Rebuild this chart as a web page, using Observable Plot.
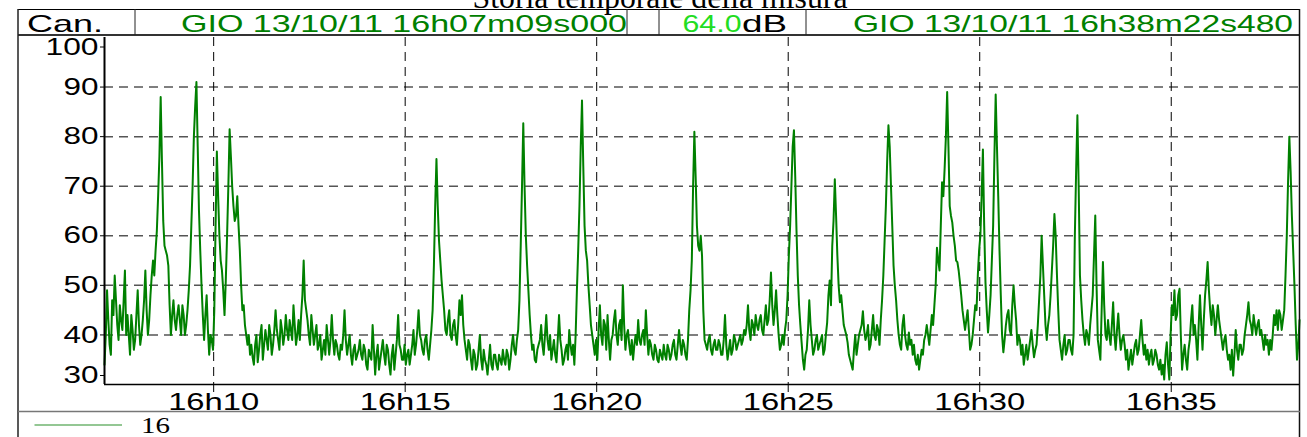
<!DOCTYPE html>
<html><head><meta charset="utf-8">
<script src="https://cdn.jsdelivr.net/npm/d3@7"></script>
<script src="https://cdn.jsdelivr.net/npm/@observablehq/plot@0.6"></script>
<style>
html,body{margin:0;padding:0;background:#fff;}
#wrap{position:relative;width:1307px;height:437px;overflow:hidden;background:#fff;}
#wrap svg{position:absolute;left:0;top:0;}
</style></head><body><div id="wrap"></div>
<script>
// ---- data ----
const titleText = "Storia temporale della misura";
const headerChannel = "Can.";
const headerStart = "GIO 13/10/11  16h07m09s000";
const headerLevel = "64.0";
const headerUnit = "dB";
const headerEnd = "GIO 13/10/11  16h38m22s480";
const legendLabel = "16";
const startTime = "2011-10-13T16:07:09.000Z";
const endTime = "2011-10-13T16:38:22.480Z";
const stepSeconds = 4;
const yTicks = [30, 40, 50, 60, 70, 80, 90, 100];
const xTickTimes = ["16:10", "16:15", "16:20", "16:25", "16:30", "16:35"];
// sound level (dB), one value every 4 s from 16h07m09s
const levels = [
34,49,38,47,52,42,46,41,53,44, 36,41,39,49,38,43,53,40,48,55,
57,68,88,63,57,54,40,47,41,46, 40,44,42,49,62,80,91,65,50,39,
48,36,39,45,77,60,53,44,60,81.5, 70,63,68,57,45,42,38,36,35.5,38,
34.5,40,35,41,37,40,38,45,39,43, 38,44,39,41,46,38,43,44,55,45,
40,44,38,42,38,35,39,42,36,44, 36,38,35,37,45,36,40,34,38,36,
39,35,37,33,36,42,32,38,35,39, 34,37,32,38,36,44,37,35,34,37,
36,41,38,45,39,36,40,35,41,54, 75.5,59,51,45,40,45,39,43,38,47,
48,39,35,38,33,36,34,40,33,35, 32,38,33,36,33,35,37,34,36,35,
40,36,41,58,82.7,60,49,40,38,34.5, 38,42,36,44,37,35,39,34.5,44,37,
35,38,41,36,34,49,66,87.3,62,55, 46,40,36,35,46,38,42,44,35,40,
45,38,43,50,37,41,36,35,40,43, 38,41,45,36,38,35,37,34.5,36,38,
35,37,36,39,35,41,36,38,35,45, 55,81,62,57,56,39,37,40,36,39,
37,38,36,44,35,39,37,39,38,40, 39,40,46,39,42,44,41,44,40,46,
43,52.6,42,49,40,38,38,43,56,70, 81.3,61,46,38.5,33,37,47,39,37,40,
38,40,37,42.5,51,58,71.4,56,46.6,45, 41,38.5,35,33,40,38,41,44.8,39,42,
38,44,39,41,43,52,66,82.3,70,54, 47,40,37,44,38,40.5,39,38,34,33,
37,39,42,38,44,46,57.6,53,70.8,73.5, 89,66,62.7,58,54.7,50.6,45,41,45,37,
40,46,52,60,77.4,50.6,40.5,48,62,88.5, 68,48,36.5,42,45,40,50,43,40,36,
34,38,37,41,35.5,38,47,60,48,39, 44,53,64.4,52,39,35,40,37,39,36,
60,84.3,52,43,38,40,42,48,64.1,39, 35,54.7,40,43,38,46.6,37,44.3,37,40,
35,33,37,36,39,37,43,36,35,34, 37,35,36,33,32,31,38.5,31,46,49,
44,49.3,33,38,33,39,46,42,35,48, 37,48,54.7,45,46,40,46,41,37,40,
35,33,31.8,41,35,38,37,42,46.6,42, 44,40,43,41,37,38,36,37,44,45,
45,41,45,60,80,64,50,35,43
];
// the readings 2 s after each of the above (the other edge of the noise band)
const levelsBetween = [
40,43,36,44,47,39,43,47,40,40, 44,37,44,42,40,47,45,43,52,52,
61,76,75,58,56,46,44,43,44,43, 46,40,45,54,70,86,78,57,44,44,
41,40,37,62,68,55,49,51,70,76, 66,64,62,50,46,40,40,38,34,40,
37,42,38,39,42,36,41,41,37,41, 40,41,43,39,42,40,39,48,47,43,
38,41,40,37,40,37,36,39,39,39, 39,36,38,40,39,38,36,37,35,37,
36,38,34,37,35,37,36,33,37,36, 38,34,36,33,39,38,35,38,36,34,
38,36,41,40,37,39,37,38,45,66, 66,55,48,41,43,40,42,40,42,44,
42,37,39,35,37,33,37,35,37,34, 35,34,36,34,36,34,35,37,33,38,
37,39,47,70,70,54,44,37,35,37, 39,38,40,39,40,37,36,39,39,34,
37,35,38,38,40,57,78,74,57,50, 42,38,39,41,40,43,37,39,39,43,
40,42,39,42,40,38,39,38,38,39, 40,38,40,39,36,38,35,37,35,36,
38,35,38,36,38,38,39,36,39,49, 70,72,58,60,45,38,39,37,38,37,
39,36,39,38,37,36,40,37,39,38, 41,42,41,43,40,42,43,41,43,42,
47,46,45,44,37,40,41,48,62,78, 72,52,42,35,36,41,42,36,39,37,
39,36,40,48,46,63,64,50,48,42, 40,36,34,37,36,40,42,41,40,37,
41,40,42,38,47,59,75,78,62,50, 43,38,42,40,37,38,36,35,36,35,
36,40,40,41,42,50,55,62,68,80, 78,64,60,55,53,48,43,43,41,38,
43,45,57,68,62,45,44,55,76,78, 57,40,39,44,41,46,46,38,39,38,
36,35,39,38,37,42,52,54,42,42, 48,58,60,45,37,38,36,39,37,40,
73,70,47,40,41,38,45,56,50,37, 45,46,39,40,42,40,41,40,39,38,
37,35,34,38,36,40,39,38,37,36, 34,37,34,35,34,36,34,40,44,43,
48,40,36,35,37,43,40,39,42,42, 43,51,49,42,44,43,43,39,39,37,
36,37,36,37,38,36,40,44,43,40, 42,42,40,39,40,39,39,40,42,41,
44,43,52,71,73,57,42,38
];

// ---- chart ----
const t0 = new Date(startTime);
const t1 = new Date(endTime);
const series = [];
levels.forEach((v, i) => {
  series.push({time: new Date(t0.getTime() + i * stepSeconds * 1000), level: v});
  if (i < levelsBetween.length)
    series.push({time: new Date(t0.getTime() + (i * stepSeconds + stepSeconds / 2) * 1000), level: levelsBetween[i]});
});
const xTicks = xTickTimes.map(s => new Date(`2011-10-13T${s}:00Z`));
const fmt = d => `${d.getUTCHours()}h${String(d.getUTCMinutes()).padStart(2, "0")}`;
const sans = "'Liberation Sans', Arial, sans-serif";
const serif = "'Liberation Serif', 'Times New Roman', serif";
const axisText = {fontSize: 24, fill: "#000", label: null};

const chart = Plot.plot({
  width: 1307, height: 437,
  marginLeft: 104, marginRight: 7, marginTop: 37, marginBottom: 53,
  style: {background: "transparent", fontFamily: sans, color: "#000", overflow: "visible"},
  x: {type: "utc", domain: [t0, t1]},
  y: {domain: [30, 100]},
  marks: [
    Plot.gridY({ticks: yTicks.filter(v => v > 30 && v < 100), stroke: "#555", strokeOpacity: 1, strokeWidth: 1.5, strokeDasharray: "9,6"}),
    Plot.gridX({ticks: xTicks, stroke: "#000", strokeOpacity: 1, strokeWidth: 1, strokeDasharray: "9,6"}),
    Plot.line(series, {x: "time", y: "level", stroke: "#008000", strokeWidth: 2}),
    Plot.ruleX([t0], {stroke: "#000", strokeWidth: 2}),
    Plot.ruleY([30], {stroke: "#000", strokeWidth: 1.5}),
    Plot.axisY({...axisText, ticks: yTicks.filter(v => v > 30 && v < 100), tickSize: 4, tickPadding: 2}),
    Plot.axisY({...axisText, ticks: [100], tickSize: 4, tickPadding: 2, dy: 9.5}),
    Plot.axisY({...axisText, ticks: [30], tickSize: 4, tickPadding: 2, dy: -9}),
    Plot.axisX({...axisText, ticks: xTicks, tickFormat: fmt, tickSize: 8, tickPadding: 0})
  ]
});
// the reference typesetting is horizontally stretched: fit each label to its measured width
chart.querySelectorAll("text").forEach(el => {
  const s = el.textContent.trim();
  let w = null;
  if (/^\d+h\d+$/.test(s)) w = 91;
  else if (s === "100") w = 53;
  else if (/^\d\d$/.test(s)) w = 35;
  if (w) { el.setAttribute("textLength", w); el.setAttribute("lengthAdjust", "spacingAndGlyphs"); }
});
document.getElementById("wrap").appendChild(chart);

// ---- frame, header and legend ----
const ns = "http://www.w3.org/2000/svg";
const deco = d3.create("svg").attr("xmlns", ns).attr("width", 1307).attr("height", 437)
  .style("pointer-events", "none");
const line = (x1, y1, x2, y2, stroke, w) => deco.append("line")
  .attr("x1", x1).attr("y1", y1).attr("x2", x2).attr("y2", y2)
  .attr("stroke", stroke).attr("stroke-width", w);
const txt = (x, y, s, opts) => deco.append("text")
  .attr("x", x).attr("y", y).text(s)
  .attr("font-family", opts.family || sans).attr("font-size", opts.size || 24)
  .attr("fill", opts.fill || "#000").attr("text-anchor", opts.anchor || "start")
  .attr("textLength", opts.w).attr("lengthAdjust", "spacingAndGlyphs");

txt(660, 8, titleText, {family: serif, size: 31, anchor: "middle", w: 375});
line(18, 9.5, 1300, 9.5, "#000", 1);
line(18, 35, 1300, 35, "#333", 2);
line(18, 9, 18, 437, "#222", 1.5);
line(1299.5, 9, 1299.5, 437, "#111", 1.5);
[135, 627, 659, 806].forEach(x => line(x, 9, x, 35, "#222", 1));
txt(27, 31.5, headerChannel, {w: 76});
txt(181, 31.5, headerStart, {fill: "#008000", w: 446});
txt(682.5, 31.5, headerLevel, {fill: "#22dd22", w: 59});
txt(742, 31.5, headerUnit, {w: 45});
txt(853, 31.5, headerEnd, {fill: "#008000", w: 440});
line(18, 411.5, 1300, 411.5, "#777", 1.5);
line(34.5, 425, 122, 425, "#2a8f2a", 1.2);
txt(141, 432.7, legendLabel, {family: serif, size: 24, w: 29});
document.getElementById("wrap").appendChild(deco.node());
</script>
</body></html>
